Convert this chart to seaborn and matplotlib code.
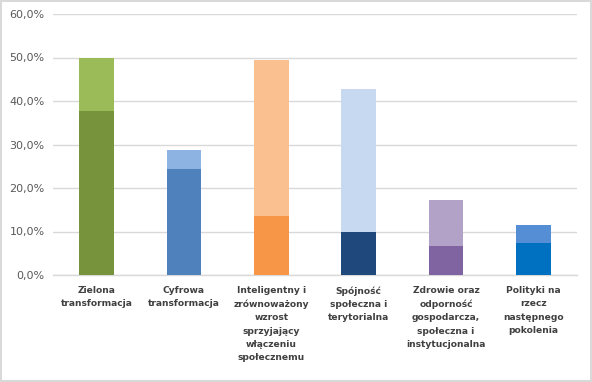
import matplotlib
matplotlib.use("Agg")
import matplotlib.pyplot as plt
from matplotlib.ticker import FuncFormatter
import seaborn as sns

categories = [
    "Zielona\ntransformacja",
    "Cyfrowa\ntransformacja",
    "Inteligentny i\nzrównoważony\nwzrost\nsprzyjający\nwłączeniu\nspołecznemu",
    "Spójność\nspołeczna i\nterytorialna",
    "Zdrowie oraz\nodporność\ngospodarcza,\nspołeczna i\ninstytucjonalna",
    "Polityki na\nrzecz\nnastępnego\npokolenia",
]
# lower (darker) segment and total height of each stacked bar, in %
bottom_values = [37.8, 24.4, 13.6, 9.9, 6.7, 7.4]
total_values = [49.8, 28.7, 49.4, 42.8, 17.2, 11.5]

bottom_colors = ["#77933C", "#4F81BD", "#F79646", "#1F497D", "#8064A2", "#0070C0"]
top_colors = ["#9BBB59", "#8DB3E2", "#FAC090", "#C6D9F1", "#B2A2C7", "#558ED5"]

sns.set_theme(style="white")
plt.rcParams["font.family"] = ["DejaVu Sans"]

fig = plt.figure(figsize=(5.92, 3.82), dpi=100)
fig.patch.set_facecolor("white")
fig.patch.set_edgecolor("#D9D9D9")
fig.patch.set_linewidth(1.5)
ax = fig.add_axes([53 / 592, 107 / 382, 524 / 592, 261 / 382])

sns.barplot(x=categories, y=total_values, hue=categories, palette=top_colors,
            legend=False, width=0.4, saturation=1, linewidth=0, ax=ax, zorder=2)
sns.barplot(x=categories, y=bottom_values, hue=categories, palette=bottom_colors,
            legend=False, width=0.4, saturation=1, linewidth=0, ax=ax, zorder=3)

ax.set_ylim(0, 60)
ax.set_yticks(range(0, 61, 10))
ax.yaxis.set_major_formatter(FuncFormatter(lambda v, _: f"{v:.1f}%".replace(".", ",")))
ax.grid(axis="y", color="#D9D9D9", linewidth=1, zorder=0)
ax.set_axisbelow(True)
ax.set_xlim(-0.5, len(categories) - 0.5)

for s in ["top", "right", "left"]:
    ax.spines[s].set_visible(False)
ax.spines["bottom"].set_color("#D9D9D9")
ax.spines["bottom"].set_linewidth(1)

ax.tick_params(axis="y", length=0, labelsize=8, labelcolor="#595959", pad=6)
ax.tick_params(axis="x", length=0, labelsize=6.6, labelcolor="#404040", pad=8)
for lbl in ax.get_xticklabels():
    lbl.set_fontweight("bold")
    lbl.set_linespacing(1.6)
ax.set_xlabel("")
ax.set_ylabel("")

fig.savefig("out.png", dpi=100, facecolor="white", edgecolor="#D9D9D9")
